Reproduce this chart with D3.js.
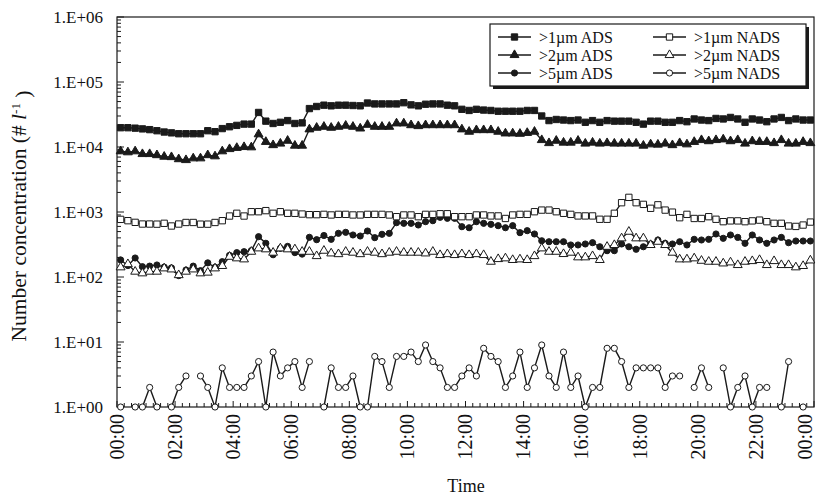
<!DOCTYPE html>
<html>
<head>
<meta charset="utf-8">
<script src="https://cdn.jsdelivr.net/npm/d3@7"></script>
<style>
  body { margin: 0; background: #fff; }
  svg { display: block; }
  text { font-family: "Liberation Serif", "Times New Roman", serif; fill: #111; }
</style>
</head>
<body>
<svg id="chart" width="817" height="496"></svg>
<script>
// x labels every 2 hours, 96 slots of 15 min
const timeLabels = ["00:00", "02:00", "04:00", "06:00", "08:00", "10:00", "12:00",
  "14:00", "16:00", "18:00", "20:00", "22:00", "00:00"];
const yTickLabels = ["1.E+00", "1.E+01", "1.E+02", "1.E+03", "1.E+04", "1.E+05", "1.E+06"];

const ads1 = [19800, 19800, 19500, 19000, 18500, 17800, 17000, 16500, 16000, 16000, 16000, 16000,
  17800, 17200, 19200, 20500, 21500, 22500, 22500, 34000, 25000, 23000, 24000, 25500,
  23000, 23500, 39000, 42000, 44000, 43000, 44000, 44000, 43500, 43000, 47500, 46000,
  46000, 46000, 46000, 48000, 44500, 43000, 45500, 46000, 46000, 44000, 43000, 38000,
  36500, 38000, 37000, 36500, 35500, 35500, 35500, 35500, 36500, 36500, 30000, 25500,
  26500, 26000, 25500, 26000, 24000, 25500, 24000, 25500, 25000, 25000, 25000, 24000,
  22500, 25000, 25000, 24000, 24000, 25500, 24500, 27000, 26000, 25500, 27500, 27000,
  28500, 27000, 24000, 27000, 26000, 24500, 27000, 28500, 25500, 27000, 26000, 26000];

const ads2 = [8600, 8300, 8600, 7800, 7800, 7500, 7100, 7000, 6500, 6300, 6700, 6700,
  7500, 7200, 8600, 9300, 9700, 10000, 9900, 15700, 12000, 10700, 11300, 12500,
  10500, 10500, 18700, 19800, 20500, 19800, 20500, 21300, 20500, 19300, 22000, 20500,
  20500, 20500, 23100, 23100, 21700, 21000, 21700, 21700, 21700, 21700, 21700, 18700,
  17200, 18200, 18200, 18200, 17200, 16200, 16200, 16000, 16500, 17200, 12800, 11500,
  12500, 11700, 11700, 12500, 11300, 11700, 11300, 11500, 11300, 11300, 11300, 11300,
  10500, 11000, 10900, 11300, 10700, 11500, 11000, 12000, 12800, 12300, 12800, 13100,
  12300, 12800, 11300, 12300, 12000, 12000, 11500, 12800, 11300, 11300, 12000, 11500];

const ads5 = [183, 150, 196, 144, 147, 153, 142, 138, 105, 128, 147, 125,
  165, 141, 172, 215, 237, 245, 254, 417, 330, 220, 276, 296,
  237, 225, 408, 375, 435, 380, 470, 487, 443, 427, 510, 403,
  454, 470, 685, 670, 670, 631, 710, 735, 828, 800, 800, 594,
  573, 710, 670, 646, 616, 573, 616, 481, 516, 459, 361, 349,
  349, 349, 311, 311, 322, 337, 292, 254, 254, 322, 292, 267,
  292, 322, 371, 330, 322, 349, 311, 380, 371, 380, 459, 394,
  443, 407, 330, 443, 371, 330, 371, 407, 337, 358, 358, 358];

const nads1 = [770, 735, 693, 653, 653, 650, 670, 609, 653, 690, 690, 650,
  650, 690, 735, 867, 955, 867, 1010, 1010, 1050, 955, 1010, 955,
  955, 930, 910, 910, 920, 900, 920, 920, 900, 900, 920, 920,
  920, 900, 847, 900, 900, 847, 920, 920, 940, 940, 847, 847,
  847, 900, 900, 870, 870, 795, 900, 920, 920, 1010, 1070, 1070,
  1010, 955, 920, 870, 870, 870, 773, 773, 955, 1390, 1680, 1390,
  1310, 1140, 1290, 1070, 995, 817, 920, 795, 795, 847, 773, 710,
  730, 730, 710, 730, 750, 710, 670, 670, 609, 600, 630, 700];

const nads2 = [141, 158, 121, 114, 121, 121, 136, 131, 107, 121, 131, 114,
  117, 136, 148, 205, 194, 187, 245, 276, 267, 237, 276, 267,
  267, 245, 245, 210, 254, 231, 225, 245, 237, 225, 245, 237,
  225, 237, 245, 237, 237, 237, 231, 245, 218, 225, 218, 225,
  218, 225, 218, 172, 189, 194, 183, 187, 183, 210, 276, 245,
  245, 226, 237, 201, 201, 210, 183, 292, 311, 394, 498, 394,
  394, 311, 349, 311, 237, 187, 187, 194, 178, 172, 172, 162,
  168, 153, 172, 176, 183, 153, 176, 153, 153, 141, 148, 180];

// null = zero count, not drawn on the log axis
const nads5 = [1, null, 1, 1, 2, 1, null, 1, 2, 3, null, 3,
  2, 1, 4, 2, 2, 2, 3, 5, 1, 7, 3, 4,
  5, 2, 5, null, 1, 4, 2, 2, 3, 1, 1, 6,
  5, 2, 6, 6, 7, 5, 9, 5, 4, 2, 2, 3,
  4, 3, 8, 6, 5, 2, 3, 7, 2, 4, 9, 3,
  2, 7, 2, 3, 1, 2, 2, 8, 8, 5, 2, 4,
  4, 4, 4, 2, 3, 3, null, 2, 4, 2, null, 4,
  1, 2, 3, 1, 2, 2, null, 1, 5, null, 1, null];

const seriesNames = [">1\u00b5m ADS", ">2\u00b5m ADS", ">5\u00b5m ADS",
  ">1\u00b5m NADS", ">2\u00b5m NADS", ">5\u00b5m NADS"];

const series = [
  { name: seriesNames[0], values: ads1, symbol: d3.symbolSquare, size: 40, open: false },
  { name: seriesNames[1], values: ads2, symbol: d3.symbolTriangle, size: 34, open: false },
  { name: seriesNames[2], values: ads5, symbol: d3.symbolCircle, size: 30, open: false },
  { name: seriesNames[3], values: nads1, symbol: d3.symbolSquare, size: 40, open: true },
  { name: seriesNames[4], values: nads2, symbol: d3.symbolTriangle, size: 34, open: true },
  { name: seriesNames[5], values: nads5, symbol: d3.symbolCircle, size: 30, open: true },
];

const svg = d3.select("#chart");
const ink = "#1a1a1a";
const plotL = 117, plotR = 814, plotT = 17, plotB = 407;
const nSlots = 96;

const x = d3.scaleLinear().domain([0, nSlots]).range([plotL, plotR]);
const y = d3.scaleLog().domain([1, 1e6]).range([plotB, plotT]);

// frame
svg.append("rect")
  .attr("x", plotL).attr("y", plotT)
  .attr("width", plotR - plotL).attr("height", plotB - plotT)
  .attr("fill", "none").attr("stroke", ink).attr("stroke-width", 1.2);

// y ticks (inside), majors + log minors
const yTicks = y.ticks();
svg.append("g").selectAll("line")
  .data(yTicks)
  .join("line")
  .attr("x1", plotL).attr("x2", (d) => {
    const m = Math.abs(Math.log10(d) - Math.round(Math.log10(d))) < 1e-9;
    return plotL + (m ? 7 : 4);
  })
  .attr("y1", (d) => y(d)).attr("y2", (d) => y(d))
  .attr("stroke", ink).attr("stroke-width", 1);

svg.append("g").selectAll("text")
  .data(yTickLabels)
  .join("text")
  .attr("x", 103)
  .attr("y", (d, i) => y(Math.pow(10, i)))
  .attr("dy", "0.35em")
  .attr("text-anchor", "end")
  .style("font-size", "17px")
  .text((d) => d);

// x ticks: one per 15 min slot, longer every 2 h
svg.append("g").selectAll("line")
  .data(d3.range(nSlots + 1))
  .join("line")
  .attr("x1", (d) => x(d)).attr("x2", (d) => x(d))
  .attr("y1", plotB).attr("y2", (d) => plotB - (d % 8 === 0 ? 6 : 4))
  .attr("stroke", ink).attr("stroke-width", 1);

svg.append("g").selectAll("text")
  .data(timeLabels)
  .join("text")
  .attr("transform", (d, i) => `translate(${Math.min(x(i * 8), 805)},414) rotate(-90)`)
  .attr("dy", "0.34em")
  .attr("text-anchor", "end")
  .style("font-size", "20px")
  .text((d) => d);

// axis titles
svg.append("text")
  .attr("x", 466).attr("y", 492)
  .attr("text-anchor", "middle")
  .style("font-size", "18px")
  .text("Time");

const yTitle = svg.append("text")
  .attr("transform", `translate(26,${(plotT + plotB) / 2 + 4}) rotate(-90)`)
  .attr("text-anchor", "middle")
  .style("font-size", "21.5px");
yTitle.append("tspan").text("Number concentration (# ");
yTitle.append("tspan").style("font-style", "italic").text("l");
yTitle.append("tspan").attr("dy", "-0.45em").style("font-size", "13px").text("-1");
yTitle.append("tspan").attr("dy", "0.45em").text(" )");

// lines and markers
const cx = (i) => x(i + 0.5);
const line = d3.line()
  .defined((d) => d != null)
  .x((d, i) => cx(i))
  .y((d) => y(d));

series.forEach((s) => {
  const g = svg.append("g");
  g.append("path")
    .datum(s.values)
    .attr("d", line)
    .attr("fill", "none")
    .attr("stroke", ink)
    .attr("stroke-width", 1.4);
  g.selectAll("path.mk")
    .data(s.values.map((v, i) => ({ v, i })).filter((d) => d.v != null))
    .join("path")
    .attr("class", "mk")
    .attr("d", d3.symbol(s.symbol, s.size))
    .attr("transform", (d) => `translate(${cx(d.i)},${y(d.v)})`)
    .attr("fill", s.open ? "#fff" : ink)
    .attr("stroke", ink)
    .attr("stroke-width", 1);
});

// legend
const lg = svg.append("g").attr("transform", "translate(490,24)");
lg.append("rect").attr("x", 3).attr("y", 3).attr("width", 316).attr("height", 62).attr("fill", ink);
lg.append("rect").attr("x", 0).attr("y", 0).attr("width", 316).attr("height", 62)
  .attr("fill", "#fff").attr("stroke", ink).attr("stroke-width", 1.2);

const item = lg.selectAll("g.item")
  .data(series)
  .join("g")
  .attr("class", "item")
  .attr("transform", (d, i) => `translate(${i < 3 ? 8 : 163},${13 + (i % 3) * 18})`);
item.append("line")
  .attr("x1", 0).attr("x2", 33).attr("y1", 0).attr("y2", 0)
  .attr("stroke", ink).attr("stroke-width", 1.5);
item.append("path")
  .attr("d", (d) => d3.symbol(d.symbol, d.size)())
  .attr("transform", "translate(16.5,0)")
  .attr("fill", (d) => (d.open ? "#fff" : ink))
  .attr("stroke", ink);
item.append("text")
  .attr("x", 41).attr("dy", "0.35em")
  .style("font-size", "16px")
  .text((d) => d.name);
</script>
</body>
</html>
